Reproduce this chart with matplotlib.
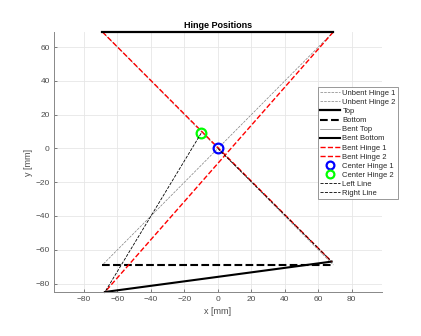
import numpy as np
import matplotlib
matplotlib.use('Agg')
import matplotlib.pyplot as plt

# hinge geometry [mm]
top_x = [-69, 69]
top_y = [69, 69]
bottom_x = [-69, 69]
bottom_y = [-69, -69]
bent_top_x = [-69, 69]
bent_top_y = [69, 69]
bent_bottom_x = [-67.5, 68]
bent_bottom_y = [-85, -67]

unbent_h1_x = [-69, 69]
unbent_h1_y = [69, -69]
unbent_h2_x = [69, -69]
unbent_h2_y = [69, -69]
bent_h1_x = [-69, 68]
bent_h1_y = [69, -67]
bent_h2_x = [69, -67.5]
bent_h2_y = [69, -85]

center1 = [0, 0]
center2 = [-10, 9]

left_x = [center2[0], bent_bottom_x[0]]
left_y = [center2[1], bent_bottom_y[0]]
right_x = [center1[0], bent_bottom_x[1]]
right_y = [center1[1], bent_bottom_y[1]]

xticks = np.arange(-80, 81, 20)
yticks = np.arange(-80, 61, 20)

plt.rcParams['font.family'] = ['Liberation Sans', 'DejaVu Sans']
axis_grey = '#4d4d4d'

fig = plt.figure(figsize=(4.21, 3.36), dpi=100)
ax = fig.add_axes([0.128, 0.131, 0.779, 0.774])

ax.plot(unbent_h1_x, unbent_h1_y, '--', color='#808080', lw=0.5, label='Unbent Hinge 1')
ax.plot(unbent_h2_x, unbent_h2_y, '--', color='#808080', lw=0.5, label='Unbent Hinge 2')
ax.plot(top_x, top_y, '-', color='k', lw=1.6, label='Top', zorder=3, clip_on=False)
ax.plot(bottom_x, bottom_y, '--', color='k', lw=1.5, label='Bottom')
ax.plot(bent_top_x, bent_top_y, '-', color='#808080', lw=0.5, label='Bent Top', zorder=1.9)
ax.plot(bent_bottom_x, bent_bottom_y, '-', color='k', lw=1.5, label='Bent Bottom', clip_on=False)
ax.plot(bent_h1_x, bent_h1_y, '--', color='r', lw=1.0, label='Bent Hinge 1')
ax.plot(bent_h2_x, bent_h2_y, '--', color='r', lw=1.0, label='Bent Hinge 2', clip_on=False)
ax.plot([center1[0]], [center1[1]], 'o', mfc='none', mec='b', ms=7, mew=1.6, label='Center Hinge 1')
ax.plot([center2[0]], [center2[1]], 'o', mfc='none', mec='#00ff00', ms=7, mew=1.6, label='Center Hinge 2')
ax.plot(left_x, left_y, '--', color='k', lw=0.6, label='Left Line', clip_on=False)
ax.plot(right_x, right_y, '--', color='k', lw=0.6, label='Right Line')

ax.set_xlim(-98, 98)
ax.set_ylim(-85, 69)
ax.set_xticks(xticks)
ax.set_yticks(yticks)
ax.grid(True, color='#e6e6e6', lw=0.6)
ax.set_axisbelow(True)
ax.tick_params(direction='in', length=2.5, width=0.5, colors=axis_grey, labelsize=6, pad=3)
for side in ['top', 'right']:
    ax.spines[side].set_visible(False)
for side in ['left', 'bottom']:
    ax.spines[side].set_color('#888888')
    ax.spines[side].set_linewidth(0.7)

ax.set_title('Hinge Positions', fontsize=6.5, fontweight='bold', pad=3)
ax.set_xlabel('x [mm]', fontsize=6.5, color=axis_grey, labelpad=3)
ax.set_ylabel('y [mm]', fontsize=6.5, color=axis_grey, labelpad=2)

leg = ax.legend(loc='upper left', bbox_to_anchor=(0.805, 0.787), fontsize=5.5,
                handlelength=2.6, labelspacing=0.23, handletextpad=0.3,
                borderpad=0.3, borderaxespad=0, fancybox=False, framealpha=1,
                markerscale=0.8)
leg.get_frame().set_edgecolor('#888888')
leg.get_frame().set_linewidth(0.6)
for t in leg.get_texts():
    t.set_color('#262626')

fig.savefig('out.png', dpi=100)
